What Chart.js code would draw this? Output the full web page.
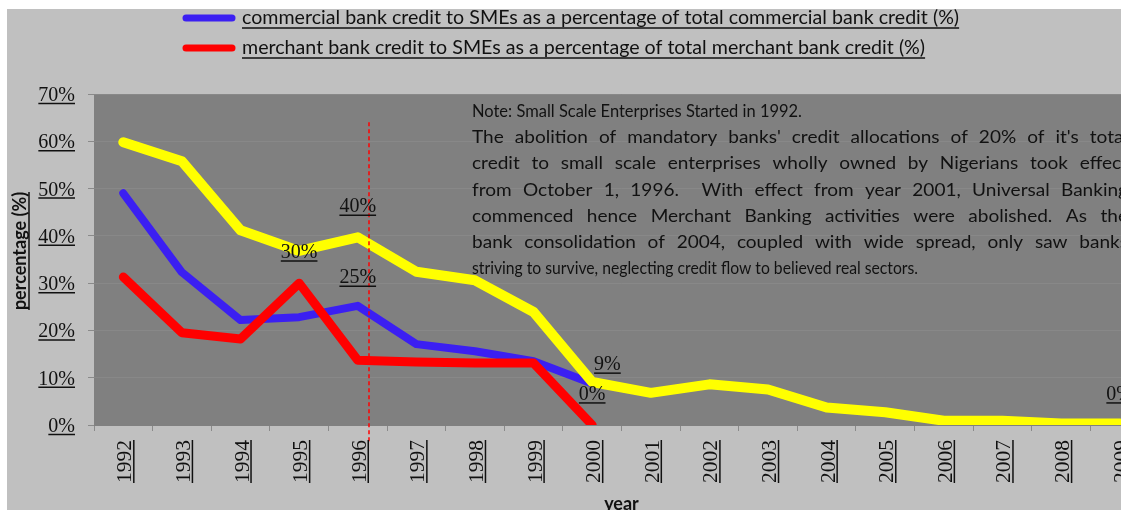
<!DOCTYPE html>
<html>
<head>
<meta charset="utf-8">
<title>SME credit share</title>
<script src="https://cdn.jsdelivr.net/npm/chart.js@4.4.0/dist/chart.umd.min.js"></script>
<style>
  html, body { margin: 0; padding: 0; background: #fff; overflow: hidden; }
  #wrap { width: 1160px; height: 510px; }
</style>
</head>
<body>
<div id="wrap"><canvas id="smeChart" width="1160" height="510"></canvas></div>
<script>
// ── Data ──────────────────────────────────────────────────
const years = ['1992', '1993', '1994', '1995', '1996', '1997', '1998', '1999', '2000',
  '2001', '2002', '2003', '2004', '2005', '2006', '2007', '2008', '2009'];
const commercialPct = [49, 32.3, 22.2, 22.8, 25.2, 17.1, 15.6, 13.5, 8.8,
  null, null, null, null, null, null, null, null, null];
const merchantPct = [31.3, 19.5, 18.2, 30, 13.7, 13.3, 13.1, 13.1, 0,
  null, null, null, null, null, null, null, null, null];
const overallPct = [59.8, 55.8, 41.2, 36.8, 39.7, 32.4, 30.6, 23.9, 9.1,
  6.8, 8.6, 7.5, 3.7, 2.7, 0.9, 0.9, 0.3, 0.3];
const yTickValues = [0, 10, 20, 30, 40, 50, 60, 70];

// value call-outs (category index, value) and the Oct 1996 policy marker
const valueNotes = [
  { text: '40%', at: 4, value: 45 },
  { text: '30%', at: 3, value: 35.3 },
  { text: '25%', at: 4, value: 30 },
  { text: '9%', at: 8.26, value: 11.6 },
  { text: '0%', at: 8, value: 5.3 },
  { text: '0%', at: 17, value: 5.3 }
];
const policyMarker = { at: 4.19, top: 64 };

const noteLines = [
  { text: 'Note: Small Scale Enterprises Started in 1992.', justify: false, squeeze: 330 },
  { text: "The abolition of mandatory banks' credit allocations of 20% of it's total", justify: true },
  { text: 'credit to small scale enterprises wholly owned by Nigerians took effect', justify: true },
  { text: 'from October 1, 1996.  With effect from year 2001, Universal Banking', justify: true },
  { text: 'commenced hence Merchant Banking activities were abolished. As the', justify: true },
  { text: 'bank consolidation of 2004, coupled with wide spread, only saw banks', justify: true },
  { text: 'striving to survive, neglecting credit flow to believed real sectors.', justify: false, squeeze: 446 }
];

const SERIF = '"Liberation Serif", "Times New Roman", serif';
const SANS = 'Lato, "Open Sans", sans-serif';
const INK = '#111';

// ── Helpers ───────────────────────────────────────────────
function underline(ctx, x1, x2, y, w) {
  ctx.beginPath();
  ctx.lineWidth = w || 1.5;
  ctx.strokeStyle = INK;
  ctx.moveTo(x1, y);
  ctx.lineTo(x2, y);
  ctx.stroke();
}

function fitSize(ctx, text, width, weight) {
  ctx.font = `${weight || ''} 20px ${SANS}`;
  return 20 * width / ctx.measureText(text).width;
}

function drawJustified(ctx, text, x, y, width) {
  const parts = text.split(' ');
  const wordsW = parts.reduce((s, p) => s + ctx.measureText(p).width, 0);
  const gap = (width - wordsW) / (parts.length - 1);
  let cx = x;
  parts.forEach(p => {
    ctx.fillText(p, cx, y);
    cx += ctx.measureText(p).width + gap;
  });
}

// ── Plugins ───────────────────────────────────────────────
const backdrop = {
  id: 'backdrop',
  beforeDraw(chart) {
    const { ctx, chartArea: a, width, height } = chart;
    ctx.save();
    ctx.fillStyle = '#ffffff';
    ctx.fillRect(0, 0, width, height);
    ctx.fillStyle = '#c0c0c0';
    ctx.fillRect(7, 9, width - 7, height - 9);
    ctx.fillStyle = '#808080';
    ctx.fillRect(a.left, a.top, a.right - a.left, a.bottom - a.top);
    ctx.restore();
  }
};

const overlays = {
  id: 'overlays',
  afterDatasetsDraw(chart) {
    const { ctx, scales: { x, y } } = chart;
    ctx.save();

    // policy marker (dashed red)
    const mx = Math.round(x.getPixelForValue(policyMarker.at));
    ctx.beginPath();
    ctx.setLineDash([4, 3]);
    ctx.lineWidth = 1.5;
    ctx.strokeStyle = '#ff0000';
    ctx.moveTo(mx, y.getPixelForValue(policyMarker.top));
    ctx.lineTo(mx, y.bottom + 18);
    ctx.stroke();
    ctx.setLineDash([]);

    // value call-outs
    ctx.font = `20px ${SERIF}`;
    ctx.fillStyle = INK;
    ctx.textAlign = 'center';
    ctx.textBaseline = 'alphabetic';
    valueNotes.forEach(n => {
      const px = x.getPixelForValue(n.at);
      const py = y.getPixelForValue(n.value);
      const w = ctx.measureText(n.text).width;
      ctx.fillText(n.text, px, py);
      underline(ctx, px - w / 2, px + w / 2, py + 3);
    });

    // note paragraph (justified lines are slightly stretched, as in the source)
    ctx.textAlign = 'left';
    ctx.font = `17px ${SANS}`;
    const left = 472, right = 1128, stretch = 1.12;
    noteLines.forEach((l, i) => {
      const by = 117 + i * 26.2;
      if (l.justify) {
        ctx.save();
        ctx.translate(left, by);
        ctx.scale(stretch, 1);
        drawJustified(ctx, l.text, 0, 0, (right - left) / stretch);
        ctx.restore();
      } else {
        ctx.fillText(l.text, left, by, l.squeeze);
      }
    });
    ctx.restore();
  },
  afterDraw(chart) {
    const { ctx, scales: { x, y } } = chart;
    ctx.save();
    ctx.fillStyle = INK;

    // y tick labels
    ctx.font = `20px ${SERIF}`;
    ctx.textAlign = 'right';
    ctx.textBaseline = 'alphabetic';
    y.ticks.forEach(t => {
      const py = y.getPixelForValue(t.value) + 7;
      const label = t.value + '%';
      const w = ctx.measureText(label).width;
      ctx.fillText(label, 75, py);
      underline(ctx, 75 - w, 75, py + 2.5);
    });

    // x tick labels (rotated, underlined)
    ctx.font = `21.5px ${SERIF}`;
    chart.data.labels.forEach((lab, i) => {
      const px = x.getPixelForValue(i);
      const w = ctx.measureText(lab).width;
      ctx.save();
      ctx.translate(px + 8, y.bottom + 15);
      ctx.rotate(-Math.PI / 2);
      ctx.textAlign = 'right';
      ctx.fillText(lab, 0, 0);
      underline(ctx, -w, 0, 2.5);
      ctx.restore();
    });

    // axis titles
    ctx.font = `bold 18px ${SANS}`;
    ctx.textAlign = 'center';
    ctx.fillText('year', (x.left + x.right) / 2, 510);
    ctx.save();
    ctx.translate(26, 251);
    ctx.rotate(-Math.PI / 2);
    const tw = ctx.measureText('percentage (%)').width;
    ctx.fillText('percentage (%)', 0, 0);
    underline(ctx, -tw / 2, tw / 2, 3);
    ctx.restore();

    // legend (left aligned entries, underlined)
    const items = chart.data.datasets.filter(d => d.inLegend);
    const size = fitSize(ctx, items[0].label, 718);
    ctx.font = `${size}px ${SANS}`;
    ctx.textAlign = 'left';
    items.forEach((d, i) => {
      const ly = 18 + i * 30;
      ctx.beginPath();
      ctx.lineCap = 'round';
      ctx.lineWidth = 7;
      ctx.strokeStyle = d.borderColor;
      ctx.moveTo(186, ly);
      ctx.lineTo(232, ly);
      ctx.stroke();
      ctx.lineCap = 'butt';
      const w = ctx.measureText(d.label).width;
      ctx.fillText(d.label, 242, ly + 6);
      underline(ctx, 242, 242 + w, ly + 10);
    });
    ctx.restore();
  }
};

// ── Chart ─────────────────────────────────────────────────
const lineStyle = {
  pointRadius: 0,
  tension: 0,
  fill: false,
  spanGaps: false,
  borderJoinStyle: 'round',
  borderCapStyle: 'round'
};

new Chart(document.getElementById('smeChart'), {
  type: 'line',
  data: {
    labels: years,
    datasets: [
      {
        ...lineStyle,
        label: 'commercial bank credit to SMEs as a percentage of total commercial bank credit (%)',
        data: commercialPct,
        borderColor: '#3b1ff2',
        borderWidth: 8,
        order: 3,
        inLegend: true
      },
      {
        ...lineStyle,
        label: 'merchant bank credit to SMEs as a percentage of total merchant bank credit (%)',
        data: merchantPct,
        borderColor: '#ff0000',
        borderWidth: 9,
        order: 2,
        inLegend: true
      },
      {
        ...lineStyle,
        label: 'overall',
        data: overallPct,
        borderColor: '#ffff00',
        borderWidth: 10,
        order: 1,
        inLegend: false
      }
    ]
  },
  options: {
    responsive: false,
    animation: false,
    devicePixelRatio: 1,
    layout: { padding: { top: 94, right: 11, bottom: 0, left: 0 } },
    plugins: {
      legend: { display: false },
      tooltip: { enabled: false }
    },
    scales: {
      x: {
        offset: true,
        grid: { offset: true, drawOnChartArea: false, drawTicks: true, tickLength: 6, tickColor: '#8a8a8a' },
        border: { display: true, color: '#808080' },
        ticks: { display: false },
        afterFit: s => { s.height = 85; }
      },
      y: {
        min: 0,
        max: 70,
        afterBuildTicks: s => { s.ticks = yTickValues.map(v => ({ value: v })); },
        grid: { color: '#888888', drawTicks: true, tickLength: 6, tickColor: '#8a8a8a' },
        border: { display: false },
        ticks: { display: false },
        afterFit: s => { s.height = s.height; s.width = 94; }
      }
    }
  },
  plugins: [backdrop, overlays]
});
</script>
</body>
</html>
